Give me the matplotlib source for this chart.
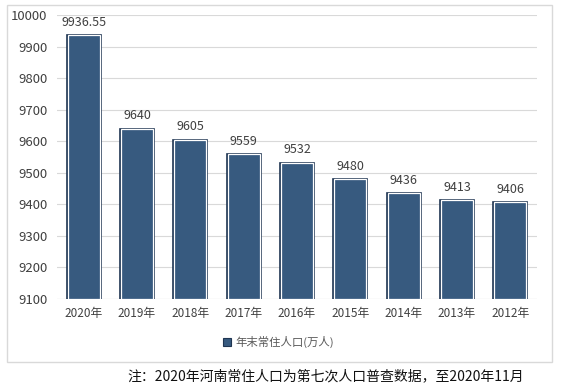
import matplotlib
matplotlib.use("Agg")
import matplotlib.pyplot as plt
from matplotlib.patches import Rectangle

plt.rcParams['font.family'] = ['Noto Sans CJK SC', 'DejaVu Sans']

years = ['2020年', '2019年', '2018年', '2017年', '2016年', '2015年', '2014年', '2013年', '2012年']
values = [9936.55, 9640, 9605, 9559, 9532, 9480, 9436, 9413, 9406]
labels = ['9936.55', '9640', '9605', '9559', '9532', '9480', '9436', '9413', '9406']
yticks = [9100, 9200, 9300, 9400, 9500, 9600, 9700, 9800, 9900, 10000]
series_name = '年末常住人口(万人)'
note = '注：2020年河南常住人口为第七次人口普查数据，至2020年11月'

fig = plt.figure(figsize=(5.83, 3.88), dpi=100)
fig.patch.set_facecolor('white')

# outer frame
fig.patches.append(Rectangle((7/583, 1-362/388), 545/583, 357/388, transform=fig.transFigure,
                             fill=False, edgecolor='#d9d9d9', linewidth=1.0))

ax = fig.add_axes([57/583, 1-299/388, 480/583, 284/388])
x = list(range(len(years)))
base = 9100
heights = [v - base for v in values]
ax.bar(x, heights, bottom=base, width=0.64, color='#375a7f', edgecolor='#1f3552', linewidth=1.2, zorder=3)
ax.bar(x, heights, bottom=base, width=0.60, color='#375a7f', edgecolor='white', linewidth=0.9, zorder=4)

for xi, v, t in zip(x, values, labels):
    ax.text(xi, v + 20, t, ha='center', va='bottom', fontsize=9, color='#404040', zorder=5)

ax.set_xlim(-0.5, len(years) - 0.5)
ax.set_ylim(9100, 10000)
ax.set_yticks(yticks)
ax.set_yticklabels([str(t) for t in yticks], fontsize=9.5, color='#404040')
ax.set_xticks(x)
ax.set_xticklabels(years, fontsize=8.5, color='#404040')
ax.tick_params(axis='both', length=0, pad=6)
ax.tick_params(axis='y', pad=7)
ax.grid(axis='y', color='#d9d9d9', linewidth=0.8, zorder=0)
for s in ax.spines.values():
    s.set_visible(False)
ax.axhline(9100, color='#d9d9d9', linewidth=0.8, zorder=1)

# legend
fig.patches.append(Rectangle((223/583, 1-346/388), 8/583, 8/388, transform=fig.transFigure,
                             facecolor='#375a7f', edgecolor='#1f3552', linewidth=0.8))
fig.text(235/583, 1-342/388, series_name, fontsize=8.2, color='#595959', va='center', ha='left')

fig.text(127/583, 1-376/388, note, fontsize=10, color='#111111', va='center', ha='left')

fig.savefig('out.png', dpi=100)
